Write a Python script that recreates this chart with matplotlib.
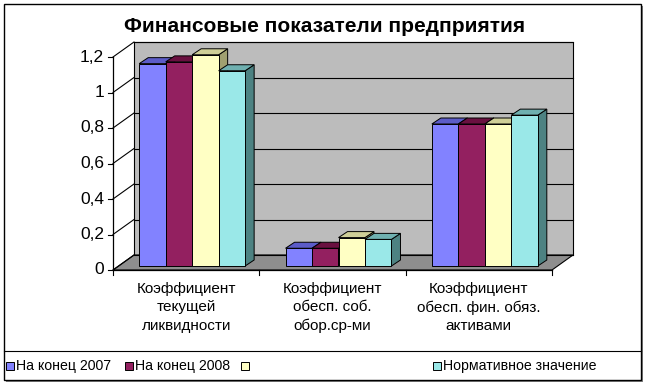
import matplotlib
matplotlib.use("Agg")
import matplotlib.pyplot as plt
from matplotlib.patches import Rectangle, Polygon
from matplotlib.lines import Line2D

plt.rcParams['font.family'] = ['Liberation Sans', 'DejaVu Sans']

# data
categories = ["Коэффициент\nтекущей\nликвидности",
              "Коэффициент\nобесп. соб.\nобор.ср-ми",
              "Коэффициент\nобесп. фин. обяз.\nактивами"]
series_names = ["На конец 2007", "На конец 2008", "", "Нормативное значение"]
end_2007 = [1.14, 0.10, 0.80]
end_2008 = [1.15, 0.10, 0.80]
third = [1.19, 0.16, 0.80]
normative = [1.10, 0.15, 0.85]
values = [end_2007, end_2008, third, normative]
yticks = [0, 0.2, 0.4, 0.6, 0.8, 1.0, 1.2]
ytick_labels = ["0", "0,2", "0,4", "0,6", "0,8", "1", "1,2"]

front_colors = ["#8282ff", "#932060", "#ffffc4", "#9ae8e8"]
top_colors = ["#5c5cc8", "#6a1040", "#cfcf98", "#6fb0b0"]
side_colors = ["#4848a0", "#50082f", "#a0a070", "#4d8282"]

W, H = 649, 392
fig = plt.figure(figsize=(W / 100, H / 100), dpi=100)

# outer frame with shadow
fig.patches.append(Rectangle((6 / W, 1 - 382 / H), 637 / W, 376 / H,
                             transform=fig.transFigure, facecolor="#808080",
                             edgecolor="none", zorder=-2))
fig.patches.append(Rectangle((4 / W, 1 - 380 / H), 637 / W, 376 / H,
                             transform=fig.transFigure, facecolor="white",
                             edgecolor="black", lw=1.0, zorder=-1))

# plot area in pixels (front plane)
x0, x1 = 113, 552
y0, y1 = 270, 57
ax = fig.add_axes([x0 / W, 1 - y0 / H, (x1 - x0) / W, (y0 - y1) / H])
ax.set_zorder(1)
ax.set_xlim(0, 3)
ax.set_ylim(0, 1.2)
ax.axis("off")

ux = 3 / (x1 - x0)      # data units per pixel
uy = 1.2 / (y0 - y1)
wall_dx, wall_dy = 21 * ux, 15 * uy
ymax = 1.2

# back wall
ax.add_patch(Polygon([(wall_dx, wall_dy), (3 + wall_dx, wall_dy),
                      (3 + wall_dx, ymax + wall_dy), (wall_dx, ymax + wall_dy)],
                     closed=True, facecolor="#bcbcbc", edgecolor="black", lw=0.8,
                     zorder=1, clip_on=False))
# floor
ax.add_patch(Polygon([(0, 0), (3, 0), (3 + wall_dx, wall_dy), (wall_dx, wall_dy)],
                     closed=True, facecolor="#8e8e8e", edgecolor="black", lw=0.8,
                     zorder=1, clip_on=False))
# gridlines on wall and side diagonals
for v in yticks:
    ax.add_line(Line2D([wall_dx, 3 + wall_dx], [v + wall_dy, v + wall_dy],
                       color="black", lw=0.8, zorder=2, clip_on=False))
    ax.add_line(Line2D([0, wall_dx], [v, v + wall_dy],
                       color="black", lw=0.8, zorder=2, clip_on=False))
    ax.add_line(Line2D([0, -5 * ux], [v, v], color="black", lw=0.8,
                       zorder=2, clip_on=False))
# axes lines
ax.add_line(Line2D([0, 0], [0, ymax], color="black", lw=0.9, zorder=2, clip_on=False))
ax.add_line(Line2D([0, 3], [0, 0], color="black", lw=0.9, zorder=8, clip_on=False))
for i in range(4):
    ax.add_line(Line2D([i, i], [0, -5 * uy], color="black", lw=0.8, zorder=8,
                       clip_on=False))

for v, lab in zip(yticks, ytick_labels):
    ax.text(-9 * ux, v, lab, ha="right", va="center", fontsize=12.5, clip_on=False)

for i, lab in enumerate(categories):
    ax.text(i + 0.5, -12 * uy, lab, ha="center", va="top", fontsize=11,
            linespacing=1.4, clip_on=False)

# bars
bw = 0.181
shift_x, shift_y = 6 * ux, 4 * uy
depth_x, depth_y = 9 * ux, 6 * uy
for j, vals in enumerate(values):
    for i, v in enumerate(vals):
        left = i + 0.5 + (j - 2) * bw + shift_x
        right = left + bw
        b = shift_y
        t = v + shift_y
        z = 3 + j
        ax.add_patch(Polygon([(right, b), (right + depth_x, b + depth_y),
                              (right + depth_x, t + depth_y), (right, t)],
                             closed=True, facecolor=side_colors[j], edgecolor="black",
                             lw=0.7, zorder=z, clip_on=False))
        ax.add_patch(Polygon([(left, t), (right, t), (right + depth_x, t + depth_y),
                              (left + depth_x, t + depth_y)],
                             closed=True, facecolor=top_colors[j], edgecolor="black",
                             lw=0.7, zorder=z, clip_on=False))
        ax.add_patch(Rectangle((left, b), bw, v, facecolor=front_colors[j],
                               edgecolor="black", lw=0.7, zorder=z, clip_on=False))

# title
fig.text(325 / W, 1 - 27 / H, "Финансовые показатели предприятия", ha="center",
         va="center", fontsize=15, fontweight="bold")

fig.lines.append(Line2D([4 / W, 641 / W], [1 - 351 / H, 1 - 351 / H],
                       transform=fig.transFigure, color="black", lw=0.8))

# legend
legend_x = [6, 125, 241, 433]
for j, name in enumerate(series_names):
    fig.patches.append(Rectangle((legend_x[j] / W, 1 - 370 / H), 8 / W, 8 / H,
                                 transform=fig.transFigure, facecolor=front_colors[j],
                                 edgecolor="black", lw=0.7))
    fig.text((legend_x[j] + 10) / W, 1 - 366 / H, name, ha="left", va="center",
             fontsize=10.2)

fig.savefig("out.png", dpi=100)
